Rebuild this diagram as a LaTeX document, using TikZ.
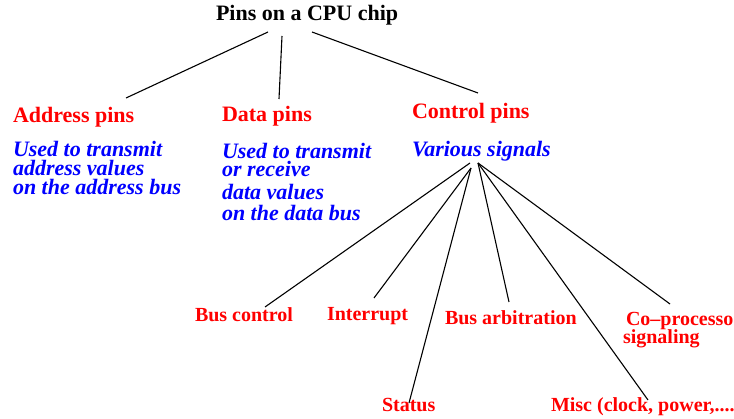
\documentclass[tikz,border=0pt]{standalone}
\usepackage{fontspec}
\setmainfont{Liberation Serif}
\begin{document}
\begin{tikzpicture}[x=1pt,y=-1pt,
  every node/.style={inner sep=0pt,outer sep=0pt,anchor=base west},
  titletext/.style={font=\fontsize{22}{22}\selectfont\bfseries,text=black},
  headtext/.style={font=\fontsize{22}{22}\selectfont\bfseries,text=red},
  desctext/.style={font=\fontsize{22}{22}\selectfont\bfseries\itshape,text=blue},
  leaftext/.style={font=\fontsize{20}{20}\selectfont\bfseries,text=red},
  link/.style={draw=black,line width=1.1pt}]
\useasboundingbox (0,0) rectangle (734,419);
\clip (0,0) rectangle (734,419);
% title
\node[titletext] (title) at (216,21) {Pins on a CPU chip};
% headings
\node[headtext] (addr) at (13,123) {Address pins};
\node[headtext] (data) at (222,122) {Data pins};
\node[headtext] (ctrl) at (412,119) {Control pins};
% descriptions
\node[desctext] (addr1) at (13,157) {Used to transmit};
\node[desctext] (addr2) at (13,176) {address values};
\node[desctext] (addr3) at (13,195) {on the address bus};
\node[desctext] (data1) at (222,159) {Used to transmit};
\node[desctext] (data2) at (222,177) {or receive};
\node[desctext] (data3) at (222,200) {data values};
\node[desctext] (data4) at (222,221) {on the data bus};
\node[desctext] (sig) at (412,157) {Various signals};
% leaves
\node[leaftext] (busc) at (195,322) {Bus control};
\node[leaftext] (intr) at (327,321) {Interrupt};
\node[leaftext] (busa) at (445,325) {Bus arbitration};
\node[leaftext] (copr) at (626,326) {Co–processo};
\node[leaftext] (copr2) at (623,344) {signaling};
\node[leaftext] (stat) at (382,412) {Status};
\node[leaftext] (misc) at (551,412) {Misc (clock, power,....};
% connector end points
\coordinate (t1) at (268,32);
\coordinate (t2) at (282,36);
\coordinate (t3) at (312,32);
\coordinate (addrtop) at (126,98);
\coordinate (datatop) at (279,99);
\coordinate (ctrltop) at (478,93);
\coordinate (fanL) at (470,163);
\coordinate (fanM) at (471,168);
\coordinate (fanR) at (478,163);
\coordinate (buscTop) at (265,307);
\coordinate (intrTop) at (374,298);
\coordinate (statTop) at (409,403);
\coordinate (busaTop) at (509,302);
\coordinate (miscTop) at (648,400);
\coordinate (coprTop) at (670,304);
% connectors
\draw[link] (t1) -- (addrtop);
\draw[link] (t2) -- (datatop);
\draw[link] (t3) -- (ctrltop);
\draw[link] (fanL) -- (buscTop);
\draw[link] (fanM) -- (intrTop);
\draw[link] (fanM) -- (statTop);
\draw[link] (fanR) -- (busaTop);
\draw[link] (fanR) -- (miscTop);
\draw[link] (fanR) -- (coprTop);
\end{tikzpicture}
\end{document}
